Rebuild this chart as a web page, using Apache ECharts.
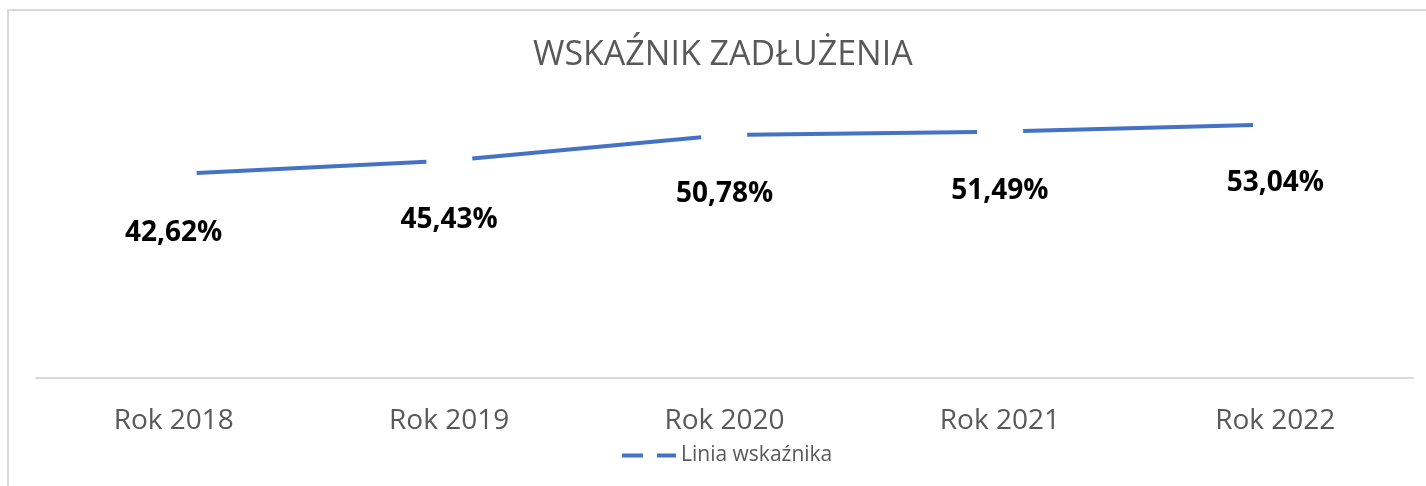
<!DOCTYPE html>
<html lang="pl" style="height: 100%">
<head>
    <meta http-equiv="Content-Type" content="text/html; charset=utf-8"/>
    <title>Wskaźnik zadłużenia</title>
    <script type="text/javascript" src="https://cdn.jsdelivr.net/npm/echarts@6/dist/echarts.min.js"></script>
    <style>
        body { margin: 0; height: 100%; background: #fff; position: relative; overflow: hidden; }
        #frame { position: absolute; left: 7px; top: 9px; width: 1500px; height: 600px;
                 border-left: 2px solid #d9d9d9; border-top: 2px solid #d9d9d9; }
        #container { position: absolute; left: 0; top: 0; width: 1426px; height: 486px; }
    </style>
</head>
<body>
<div id="frame"></div>
<div id="container"></div>
<script type="text/javascript">
    // dane
    var years = ['Rok 2018', 'Rok 2019', 'Rok 2020', 'Rok 2021', 'Rok 2022'];
    var ratio = [42.62, 45.43, 50.78, 51.49, 53.04];

    var myChart = echarts.init(document.getElementById('container'));
    var font = '"Open Sans", "Noto Sans", sans-serif';

    var option = {
        animation: false,
        textStyle: { fontFamily: font },
        title: {
            text: 'WSKAŹNIK ZADŁUŻENIA',
            left: 528,
            top: 33,
            textStyle: { fontSize: 34, fontWeight: 'normal', color: '#595959', fontFamily: font }
        },
        legend: {
            bottom: 15,
            left: 617,
            itemWidth: 54,
            itemHeight: 4,
            itemGap: 4,
            textStyle: { fontSize: 21, color: '#595959', fontFamily: font },
            // ikonka: dwie kreski jak w Excelu
            data: [{ name: 'Linia wskaźnika', icon: 'path://M0,0H21V4H0Z M35,0H54V4H35Z' }]
        },
        grid: { left: 36, right: 13, top: 91, bottom: 108 },
        xAxis: {
            type: 'category',
            data: years,
            axisLine: { lineStyle: { color: '#d9d9d9', width: 2 } },
            axisTick: { show: false },
            axisLabel: { fontSize: 28, color: '#595959', margin: 29, fontFamily: font }
        },
        yAxis: {
            type: 'value',
            min: 0,
            max: 60,
            show: false
        },
        series: [{
            name: 'Linia wskaźnika',
            type: 'line',
            data: ratio,
            symbol: 'circle',
            symbolSize: 0.001,
            smooth: false,
            lineStyle: { color: '#4472c4', width: 4, type: [230, 46], dashOffset: 253, cap: 'butt' },
            itemStyle: { color: '#4472c4' },
            label: {
                show: true,
                position: 'bottom',
                distance: 45,
                fontSize: 28,
                fontWeight: 'bold',
                color: '#000',
                fontFamily: font,
                formatter: function (p) {
                    return p.value.toFixed(2).replace('.', ',') + '%';
                }
            }
        }]
    };
    myChart.setOption(option);
</script>
</body>
</html>
